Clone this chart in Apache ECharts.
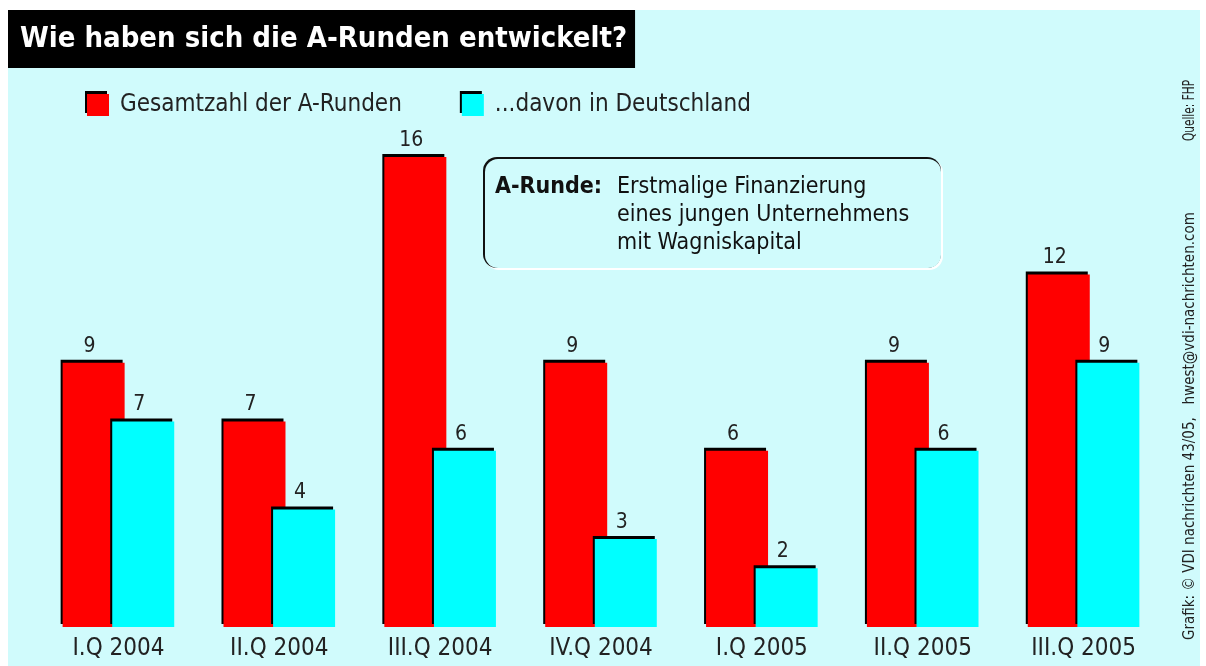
<!DOCTYPE html>
<html><head><meta charset="utf-8">
<script src="https://cdn.jsdelivr.net/npm/echarts@6/dist/echarts.min.js"></script>
<style>html,body{margin:0;padding:0;background:#fff}#c{width:1206px;height:666px}</style>
</head><body><div id="c"></div>
<script>
var categories = ['I.Q 2004','II.Q 2004','III.Q 2004','IV.Q 2004','I.Q 2005','II.Q 2005','III.Q 2005'];
var gesamt = [9, 7, 16, 9, 6, 9, 12];
var deutschland = [7, 4, 6, 3, 2, 6, 9];
var seriesNames = ['Gesamtzahl der A-Runden', '...davon in Deutschland'];
var titleText = 'Wie haben sich die A-Runden entwickelt?';
var noteLabel = 'A-Runde:';
var noteLines = ['Erstmalige Finanzierung', 'eines jungen Unternehmens', 'mit Wagniskapital'];
var sourceText = 'Quelle: FHP';
var creditText = 'Grafik: © VDI nachrichten 43/05,   hwest@vdi-nachrichten.com';

var FONT = '"Liberation Sans Narrow", "DejaVu Sans Condensed", sans-serif';
var BG = '#d0fbfc';
var chart = echarts.init(document.getElementById('c'));
var shadow = {shadowColor:'#000', shadowBlur:0, shadowOffsetX:-2, shadowOffsetY:-3};

chart.setOption({
  backgroundColor: '#fff',
  animation: false,
  title: {
    text: titleText, left: 8, top: 10,
    backgroundColor: '#000',
    padding: [11, 8, 11, 12],
    textStyle: {color:'#fff', fontFamily: FONT, fontWeight:'bold', fontSize: 29, lineHeight: 36}
  },
  legend: {
    left: 82, top: 88, itemWidth: 22, itemHeight: 22, itemGap: 60,
    icon: 'rect',
    itemStyle: shadow,
    textStyle: {color:'#222', fontFamily: FONT, fontSize: 24, padding:[0,0,0,6]},
    data: seriesNames
  },
  grid: {left: 38, right: 42, top: 157, bottom: 39},
  xAxis: {
    type: 'category', data: categories,
    axisLine: {show:false}, axisTick: {show:false},
    axisLabel: {color:'#222', fontFamily: FONT, fontSize: 24, margin: 10}
  },
  yAxis: {type:'value', min:0, max:16, show:false, splitLine:{show:false}},
  graphic: [
    {type:'rect', z:-10, silent:true, shape:{x:8, y:10, width:1192, height:656}, style:{fill:BG}},
    {type:'rect', z:-5, shape:{x:485, y:159, width:458, height:111, r:14}, style:{fill:'#fff'}},
    {type:'rect', z:-4, shape:{x:483, y:157, width:458, height:111, r:14}, style:{fill:'#111'}},
    {type:'rect', z:-3, shape:{x:485, y:159, width:456, height:109, r:13}, style:{fill:BG}},
    {type:'text', x:495, y:187, style:{text:noteLabel, fill:'#111', font:'bold 23px ' + FONT, verticalAlign:'middle'}},
    {type:'text', x:617, y:187, style:{text:noteLines[0], fill:'#111', font:'23px ' + FONT, verticalAlign:'middle'}},
    {type:'text', x:617, y:215, style:{text:noteLines[1], fill:'#111', font:'23px ' + FONT, verticalAlign:'middle'}},
    {type:'text', x:617, y:243, style:{text:noteLines[2], fill:'#111', font:'23px ' + FONT, verticalAlign:'middle'}},
    {type:'text', x:1190, y:141, rotation:Math.PI/2, scaleX:0.78, style:{text:sourceText, fill:'#222', font:'15px ' + FONT, align:'left', verticalAlign:'middle'}},
    {type:'text', x:1190, y:640, rotation:Math.PI/2, style:{text:creditText, fill:'#222', font:'15px ' + FONT, align:'left', verticalAlign:'middle'}}
  ],
  series: [
    {name: seriesNames[0], type:'bar', data: gesamt, barWidth: 62, barGap: '-20%',
     itemStyle: Object.assign({color:'#ff0000'}, shadow),
     label: {show:true, position:'top', distance:6, color:'#222', fontFamily: FONT, fontSize: 21, offset:[-4,0]}},
    {name: seriesNames[1], type:'bar', data: deutschland, barWidth: 62,
     itemStyle: Object.assign({color:'#00ffff'}, shadow),
     label: {show:true, position:'top', distance:6, color:'#222', fontFamily: FONT, fontSize: 21, offset:[-4,0]}}
  ]
});
</script></body></html>
